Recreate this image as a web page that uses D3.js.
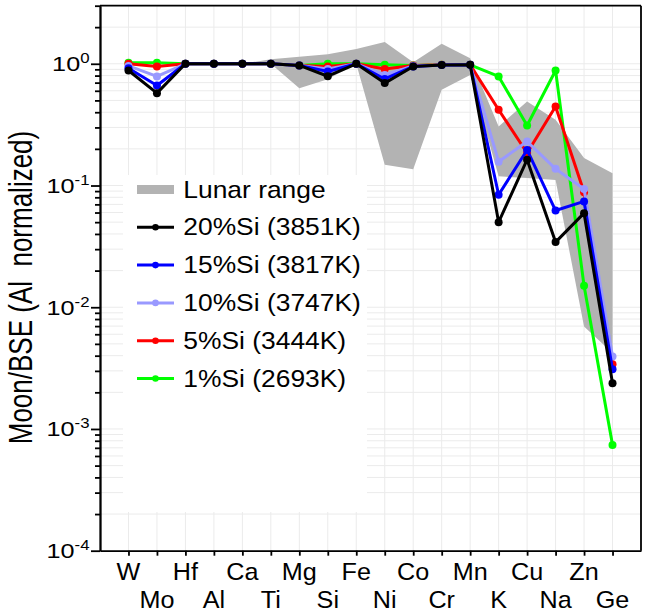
<!DOCTYPE html>
<html><head><meta charset="utf-8">
<script src="https://cdn.jsdelivr.net/npm/d3@7"></script>
<style>
body{margin:0;background:#fff}
text{font-family:"Liberation Sans",Arial,Helvetica,sans-serif;fill:#000}
</style>
</head><body>
<svg id="chart" width="647" height="614"></svg>
<script>
// ---- data ----
const elements = ["W","Mo","Hf","Al","Ca","Ti","Mg","Si","Fe","Ni","Co","Cr","Mn","K","Cu","Na","Zn","Ge"];
const lunarUpper = [1, 1, 1, 1, 1, 1.09, 1.14, 1.2, 1.32, 1.51, 1.03, 1.46, 1.11, 0.305, 0.49, 0.347, 0.168, 0.126];
const lunarLower = [1, 1, 1, 1, 1, 1, 0.63, 0.745, 1, 0.148, 0.136, 0.611, 0.81, 0.119, 0.115, 0.111, 0.00695, 0.0042];
const si20 = [0.88, 0.574, 1, 1, 1, 1, 0.97, 0.79, 1, 0.694, 0.95, 0.975, 0.98, 0.050, 0.163, 0.0343, 0.0593, 0.00238];
const si15 = [0.92, 0.663, 1, 1, 1, 1, 0.97, 0.864, 1, 0.75, 0.95, 0.975, 0.98, 0.084, 0.196, 0.0623, 0.074, 0.0031];
const si10 = [0.96, 0.787, 1, 1, 1, 1, 0.97, 0.905, 1, 0.81, 0.96, 0.975, 0.98, 0.157, 0.23, 0.137, 0.0935, 0.00394];
const si5  = [1.0, 0.95, 1, 1, 1, 1, 0.97, 0.95, 1, 0.905, 0.97, 0.98, 0.98, 0.419, 0.185, 0.446, 0.088, 0.0034];
const si1  = [1.02, 1.02, 1, 1, 1, 1, 0.97, 1.0, 1, 0.98, 0.97, 0.98, 0.98, 0.787, 0.311, 0.88, 0.015, 0.00074];
const seriesNames = ["20%Si (3851K)", "15%Si (3817K)", "10%Si (3747K)", "5%Si (3444K)", "1%Si (2693K)"];
const seriesColors = ["#000000", "#0000ff", "#9999ff", "#ff0000", "#00ff00"];
const seriesValues = [si20, si15, si10, si5, si1];
const bandName = "Lunar range";
const yMajorTicks = [1e-4, 1e-3, 1e-2, 1e-1, 1];
const yTickExponents = ["-4", "-3", "-2", "-1", "0"];
const yLabel = "Moon/BSE (Al  normalized)";

// ---- layout ----
const svg = d3.select("#chart");
const L = 100, R = 641, T = 5.7, B = 550.7;
const x = d3.scaleLinear().domain([-1, 18]).range([L, R]);
const y = d3.scaleLog().domain([1e-4, 3]).range([B, T]);

const minorTicks = [];
for (let k = -4; k <= 0; k++) for (let m = 2; m <= 9; m++) { const v = m * Math.pow(10, k); if (v <= 3) minorTicks.push(v); }

svg.append("rect").attr("width", 647).attr("height", 614).attr("fill", "#fff");

// grid
const grid = svg.append("g").attr("stroke", "#ebebeb").attr("stroke-width", 1);
grid.selectAll("line.v").data(elements).join("line")
  .attr("x1", (d, i) => x(i)).attr("x2", (d, i) => x(i)).attr("y1", T).attr("y2", B);
grid.selectAll("line.h").data(yMajorTicks.concat(minorTicks)).join("line")
  .attr("x1", L).attr("x2", R).attr("y1", d => y(d)).attr("y2", d => y(d));

// legend background
svg.append("rect").attr("x", 123).attr("y", 175).attr("width", 244).attr("height", 337).attr("fill", "#fff");

// lunar band
const area = d3.area().x((d, i) => x(i)).y0((d, i) => y(lunarLower[i])).y1((d, i) => y(lunarUpper[i]));
svg.append("path").datum(elements).attr("d", area).attr("fill", "#b3b3b3");

// series (black on top)
const line = d3.line().x((d, i) => x(i)).y(d => y(d));
for (let s = seriesValues.length - 1; s >= 0; s--) {
  const g = svg.append("g");
  g.append("path").datum(seriesValues[s]).attr("d", line).attr("fill", "none")
    .attr("stroke", seriesColors[s]).attr("stroke-width", 3).attr("stroke-linejoin", "round");
  g.selectAll("circle").data(seriesValues[s]).join("circle")
    .attr("cx", (d, i) => x(i)).attr("cy", d => y(d)).attr("r", 4).attr("fill", seriesColors[s]);
}

// axes
const yAxisMajor = d3.axisLeft(y).tickValues(yMajorTicks).tickSize(9).tickSizeOuter(0).tickFormat("");
const yAxisMinor = d3.axisLeft(y).tickValues(minorTicks).tickSize(5).tickSizeOuter(0).tickFormat("");
const ga = svg.append("g").attr("transform", `translate(${L},0)`).call(yAxisMajor);
const gm = svg.append("g").attr("transform", `translate(${L},0)`).call(yAxisMinor);
const xAxis = d3.axisBottom(x).tickValues(d3.range(elements.length)).tickSize(5).tickSizeOuter(0).tickFormat("");
const gx = svg.append("g").attr("transform", `translate(0,${B})`).call(xAxis);
[ga, gm, gx].forEach(g => { g.selectAll("path,line").attr("stroke", "#000").attr("stroke-width", 1.8); });
// frame top/right
svg.append("line").attr("x1", L).attr("x2", R).attr("y1", T).attr("y2", T).attr("stroke", "#000").attr("stroke-width", 1.8);
svg.append("line").attr("x1", R).attr("x2", R).attr("y1", T).attr("y2", B).attr("stroke", "#000").attr("stroke-width", 1.8);

// y tick labels
yMajorTicks.forEach((v, i) => {
  const t = svg.append("text").attr("text-anchor", "end")
    .attr("transform", `translate(89.5,${y(v) + 7.5}) scale(1.2,1)`).style("font-size", "21px");
  t.append("tspan").text("10");
  t.append("tspan").attr("dy", -8).style("font-size", "14px").text(yTickExponents[i]);
});

// x tick labels
elements.forEach((e, i) => {
  svg.append("text").attr("text-anchor", "middle")
    .attr("transform", `translate(${x(i)},${i % 2 === 0 ? 580 : 608}) scale(1.05,1)`)
    .style("font-size", "24px").text(e);
});

// y label
svg.append("text").attr("text-anchor", "middle").style("font-size", "26px").style("white-space", "pre")
  .attr("transform", `translate(31.5,287.5) scale(1.25,1) rotate(-90)`).text(yLabel);

// legend
const lx0 = 137, lx1 = 174, ltx = 183.3, ly0 = 189.5, ldy = 37.8;
svg.append("rect").attr("x", lx0).attr("y", ly0 - 4.5).attr("width", lx1 - lx0).attr("height", 9).attr("fill", "#b3b3b3");
svg.append("text").attr("transform", `translate(${ltx},${ly0 + 8}) scale(1.1,1)`).style("font-size", "24px").text(bandName);
seriesNames.forEach((n, s) => {
  const cy = ly0 + ldy * (s + 1);
  svg.append("line").attr("x1", lx0).attr("x2", lx1).attr("y1", cy).attr("y2", cy)
    .attr("stroke", seriesColors[s]).attr("stroke-width", 3);
  svg.append("circle").attr("cx", (lx0 + lx1) / 2).attr("cy", cy).attr("r", 3.3).attr("fill", seriesColors[s]);
  svg.append("text").attr("transform", `translate(${ltx},${cy + 8}) scale(1.1,1)`).style("font-size", "24px").text(n);
});
</script>
</body></html>
